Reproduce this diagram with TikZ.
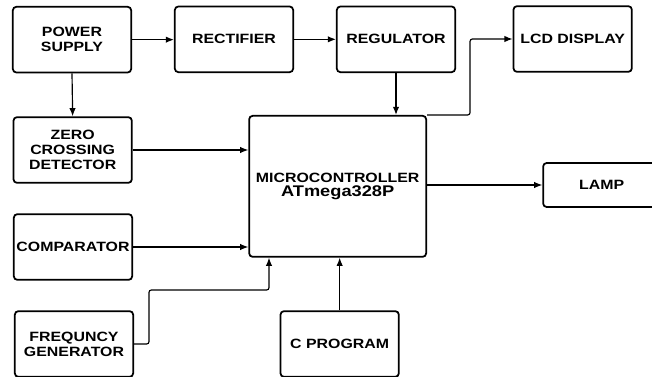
\documentclass[tikz,border=0pt]{standalone}
\usepackage{fontspec}
\setmainfont[FakeStretch=1.18]{Liberation Sans}
\usepackage{tikz}
\usetikzlibrary{calc, arrows.meta, positioning}

\begin{document}
\begin{tikzpicture}[
    >={Latex[length=7pt, width=5.5pt]},
    flow_arrow/.style={draw=black, line width=1pt, rounded corners=2pt, ->},
    % Blocks
    block_node/.style={rectangle, rounded corners=3pt, draw=black, line width=1.5pt, fill=white, minimum width=3.55cm, minimum height=1.97cm, inner sep=0pt, align=center, font=\fontsize{11.5}{12.6}\selectfont\bfseries},
    mcu_node/.style={block_node, minimum width=5.31cm, minimum height=4.23cm},
    lamp_node/.style={block_node, minimum width=3.51cm, minimum height=1.32cm}
]
    \useasboundingbox (0,0) rectangle (19.56,11.31);

    % =========================================================================
    % SUPPLY CHAIN + OUTPUT
    % =========================================================================
    \node [block_node] (ps) at (2.16, 10.12) {POWER\\SUPPLY};
    \node [block_node] (rect) at (7.02, 10.13) {RECTIFIER};
    \node [block_node] (reg) at (11.88, 10.13) {REGULATOR};
    \node [block_node] (lcd) at (17.18, 10.14) {LCD DISPLAY};

    % =========================================================================
    % CONTROLLER + INPUTS
    % =========================================================================
    \node [block_node] (zcd) at (2.18, 6.81) {ZERO\\CROSSING\\DETECTOR};
    \node [mcu_node] (mcu) at (10.13, 5.72) {MICROCONTROLLER\\{\fontsize{13.2}{13}\selectfont ATmega328P}};
    \node [lamp_node] (lamp) at (18.05, 5.76) {LAMP};
    \node [block_node] (comp) at (2.19, 3.90) {COMPARATOR};
    \node [block_node] (freq) at (2.22, 0.99) {FREQUNCY\\GENERATOR};
    \node [block_node] (cprog) at (10.19, 0.99) {C PROGRAM};

    % =========================================================================
    % CONNECTIONS
    % =========================================================================
    \draw [flow_arrow] (ps.east) -- (ps.east -| rect.west);
    \draw [flow_arrow] (rect.east) -- (rect.east -| reg.west);
    \draw [flow_arrow] (ps.south) -- (zcd.north);
    \draw [flow_arrow] (reg.south) -- (reg.south |- mcu.north);
    \draw [flow_arrow] (mcu.north east) -- ++(1.29,0) |- (lcd.west);
    \draw [flow_arrow] (zcd.east) -- (zcd.east -| mcu.west);
    \draw [flow_arrow] (comp.east) -- (comp.east -| mcu.west);
    \draw [flow_arrow] (mcu.east |- lamp.west) -- (lamp.west);

    \coordinate (fbend) at (4.47, 2.61);
    \draw [flow_arrow] (freq.east) -| (fbend) -| ([xshift=-2.06cm]mcu.south);
    \draw [flow_arrow] (cprog.north) -- (cprog.north |- mcu.south);
\end{tikzpicture}
\end{document}
